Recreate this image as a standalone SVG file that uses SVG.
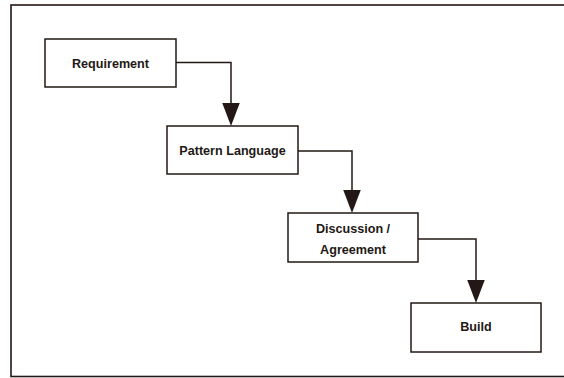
<svg xmlns="http://www.w3.org/2000/svg" width="564" height="378" viewBox="0 0 564 378">
  <style>
    .frame { fill: #ffffff; stroke: #231815; stroke-width: 1.6; }
    .box { fill: #ffffff; stroke: #231815; stroke-width: 1.5; }
    .label { font-family: "Liberation Sans", Arial, sans-serif; font-weight: bold; font-size: 12.6px; fill: #231815; text-anchor: middle; }
    .conn { fill: none; stroke: #231815; stroke-width: 1.5; }
  </style>
  <defs>
    <marker id="arrow" markerUnits="userSpaceOnUse" markerWidth="24" markerHeight="18" viewBox="0 0 24 18" refX="0" refY="8.75" orient="auto">
      <path d="M0,0 L23,8.75 L0,17.5 Z" fill="#231815"/>
    </marker>
  </defs>
  <rect width="564" height="378" fill="#ffffff"/>
  <rect class="frame" x="11" y="5" width="562" height="371.5"/>

  <g id="connectors">
    <path class="conn" d="M176,62.5 H231 V103" marker-end="url(#arrow)"/>
    <path class="conn" d="M298,151 H352 V190" marker-end="url(#arrow)"/>
    <path class="conn" d="M418,239 H476 V280" marker-end="url(#arrow)"/>
  </g>

  <g id="requirement">
    <rect class="box" x="45" y="39" width="131" height="48"/>
    <text class="label" x="110.5" y="67.5">Requirement</text>
  </g>
  <g id="pattern-language">
    <rect class="box" x="167" y="126" width="131" height="48"/>
    <text class="label" x="232.5" y="154.5">Pattern Language</text>
  </g>
  <g id="discussion-agreement">
    <rect class="box" x="288" y="213" width="130" height="49"/>
    <text class="label" x="353" y="232.5">Discussion /</text>
    <text class="label" x="353" y="253.5">Agreement</text>
  </g>
  <g id="build">
    <rect class="box" x="411" y="303" width="130" height="49"/>
    <text class="label" x="476" y="330.5">Build</text>
  </g>
</svg>
